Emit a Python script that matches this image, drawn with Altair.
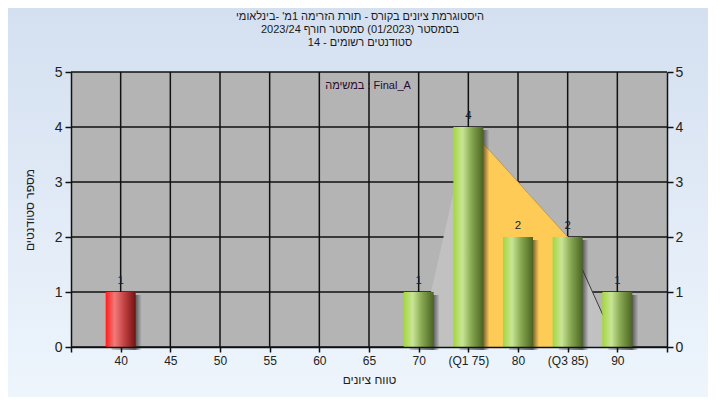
import altair as alt
import pandas as pd

FONT = "Liberation Sans"
W, H = 596, 275

# ---- data ----
title_lines = [
    "היסטוגרמת ציונים בקורס - תורת הזרימה 1מ' -בינלאומי",
    "בסמסטר  (01/2023)  סמסטר חורף 2023/24",
    "סטודנטים רשומים - 14",
]
x_title = "טווח ציונים"
y_title = "מספר סטודנטים"
note_text = "במשימה : Final_A"

grades = [40, 70, 75, 80, 85, 90]
counts = [1, 1, 4, 2, 2, 1]
status = ["fail", "pass", "pass", "pass", "pass", "pass"]

poly_grades = [70, 75, 85, 90]
poly_counts = [0, 4, 2, 0]
quart_grades = [75, 85]
quart_counts = [4, 2]
tail_grades = [85, 90]
tail_counts = [2, 0]

tick_grades = [40, 45, 50, 55, 60, 65, 70, 75, 80, 85, 90]
tick_labels = ["40", "45", "50", "55", "60", "65", "70", "(Q1 75)", "80", "(Q3 85)", "90"]
axis_ticks = [35] + tick_grades + [95]
y_ticks = [0, 1, 2, 3, 4, 5]

bars = pd.DataFrame({"grade": grades, "count": counts, "status": status})
poly = pd.DataFrame({"grade": poly_grades, "count": poly_counts})
quart = pd.DataFrame({"grade": quart_grades, "count": quart_counts})
tail = pd.DataFrame({"grade": tail_grades, "count": tail_counts})
vgrid = pd.DataFrame({"grade": tick_grades})
hgrid = pd.DataFrame({"count": y_ticks})
one = pd.DataFrame({"k": [0]})

expr = "''"
for v, l in reversed(list(zip(tick_grades, tick_labels))):
    expr = f"datum.value == {v} ? '{l}' : ({expr})"

xs = alt.Scale(domain=[35, 95], nice=False, zero=False, padding=0)
ys = alt.Scale(domain=[0, 5], nice=False, padding=0)

x_axis = alt.Axis(values=axis_ticks, labelExpr=expr, title=x_title, grid=False,
                  domainColor="#111111", domainWidth=1.5, tickColor="#111111", tickWidth=1.5,
                  tickSize=5, labelPadding=3, labelFont=FONT, labelFontSize=12,
                  labelColor="#222222", titleFont=FONT, titleFontSize=12,
                  titleFontWeight="normal", titleColor="#222222", titlePadding=8, zindex=1)
yl_axis = alt.Axis(values=y_ticks, title=y_title, grid=False, orient="left",
                   domainColor="#111111", domainWidth=1.5, tickColor="#111111", tickWidth=1.5,
                   tickSize=6, labelPadding=3, labelFont=FONT, labelFontSize=14,
                   labelColor="#222222", titleFont=FONT, titleFontSize=12,
                   titleFontWeight="normal", titleColor="#222222", titlePadding=18, zindex=1)
yr_axis = alt.Axis(values=y_ticks, title=None, grid=False, orient="right",
                   domainColor="#111111", domainWidth=1.5, tickColor="#111111", tickWidth=1.5,
                   tickSize=6, labelPadding=2, labelFont=FONT, labelFontSize=14,
                   labelColor="#222222", zindex=1)

def X():
    return alt.X("grade:Q", scale=xs, axis=x_axis)

def Y(axis=None):
    return alt.Y("count:Q", scale=ys, axis=axis)

bg_grad = {"gradient": "linear", "x1": 0, "x2": 0, "y1": 0, "y2": 1,
           "stops": [{"offset": 0, "color": "#d3dff0"}, {"offset": 1, "color": "#eff6fd"}]}
green_grad = {"gradient": "linear", "x1": 0, "x2": 1, "y1": 0, "y2": 0,
              "stops": [{"offset": 0, "color": "#a4d63e"},
                        {"offset": 0.3, "color": "#c9e596"},
                        {"offset": 0.6, "color": "#88a852"},
                        {"offset": 1, "color": "#4a6420"}]}
red_grad = {"gradient": "linear", "x1": 0, "x2": 1, "y1": 0, "y2": 0,
            "stops": [{"offset": 0, "color": "#ff1c1c"},
                      {"offset": 0.3, "color": "#f27a7a"},
                      {"offset": 0.6, "color": "#c54545"},
                      {"offset": 1, "color": "#761010"}]}
shadow_grad = {"gradient": "linear", "x1": 0, "x2": 1, "y1": 0, "y2": 0,
               "stops": [{"offset": 0, "color": "rgba(40,40,40,0.2)"},
                         {"offset": 0.78, "color": "rgba(40,40,40,0.7)"},
                         {"offset": 1, "color": "rgba(40,40,40,0)"}]}

background = alt.Chart(one).mark_rect(color=bg_grad).encode(
    x=alt.value(-80), x2=alt.value(W + 60), y=alt.value(-80), y2=alt.value(H + 70))
plotbg = alt.Chart(one).mark_rect(color="#b4b4b4").encode(
    x=alt.value(0), x2=alt.value(W), y=alt.value(0), y2=alt.value(H))
vrules = alt.Chart(vgrid).mark_rule(color="#111111", strokeWidth=1.5).encode(x=X())
hrules = alt.Chart(hgrid).mark_rule(color="#111111", strokeWidth=1.5).encode(y=Y())

area_all = alt.Chart(poly).mark_area(color="#c1c1c1", interpolate="linear").encode(
    x=X(), y=Y())
area_q = alt.Chart(quart).mark_area(color="#fecb57", interpolate="linear").encode(
    x=X(), y=Y())
edge_q = alt.Chart(quart).mark_line(color="#c99a3a", strokeWidth=1).encode(x=X(), y=Y())
edge_tail = alt.Chart(tail).mark_line(color="#3a3a3a", strokeWidth=1).encode(x=X(), y=Y())

shadow = alt.Chart(bars).mark_bar(size=30, xOffset=6, yOffset=3, color=shadow_grad).encode(
    x=X(), y=Y())

bars_pass = alt.Chart(bars).transform_filter("datum.status == 'pass'").mark_bar(
    size=30, color=green_grad).encode(x=X(), y=Y(yl_axis))
bars_fail = alt.Chart(bars).transform_filter("datum.status == 'fail'").mark_bar(
    size=30, color=red_grad).encode(x=X(), y=Y(yr_axis))

labels = alt.Chart(bars).mark_text(font=FONT, fontSize=11.5, color="#1c1c2c",
                                   baseline="bottom", dy=-6).encode(
    x=X(), y=Y(), text="count:Q")

note = alt.Chart(pd.DataFrame({"t": [note_text]})).mark_text(
    font=FONT, fontSize=11, color="#2c0a2c", baseline="middle").encode(
    x=alt.value(297), y=alt.value(14), text="t:N")

title_layers = []
for i, line in enumerate(title_lines):
    title_layers.append(
        alt.Chart(pd.DataFrame({"t": [line]})).mark_text(
            font=FONT, fontSize=11, color="#1a1a1a", baseline="middle").encode(
            x=alt.value(289), y=alt.value(-55 + 13 * i), text="t:N"))

chart = alt.layer(
    background, plotbg, vrules, hrules, area_all, area_q, edge_q, edge_tail,
    shadow, bars_pass, bars_fail, labels, note, *title_layers
).resolve_axis(y="independent").properties(
    width=W, height=H,
    padding={"left": 63, "top": 64, "right": 41, "bottom": 50},
    autosize=alt.AutoSizeParams(type="none"),
    background="#e0e9f5",
).configure_view(stroke=None)

chart.save("out.html", embed_options={"renderer": "svg", "actions": False})
